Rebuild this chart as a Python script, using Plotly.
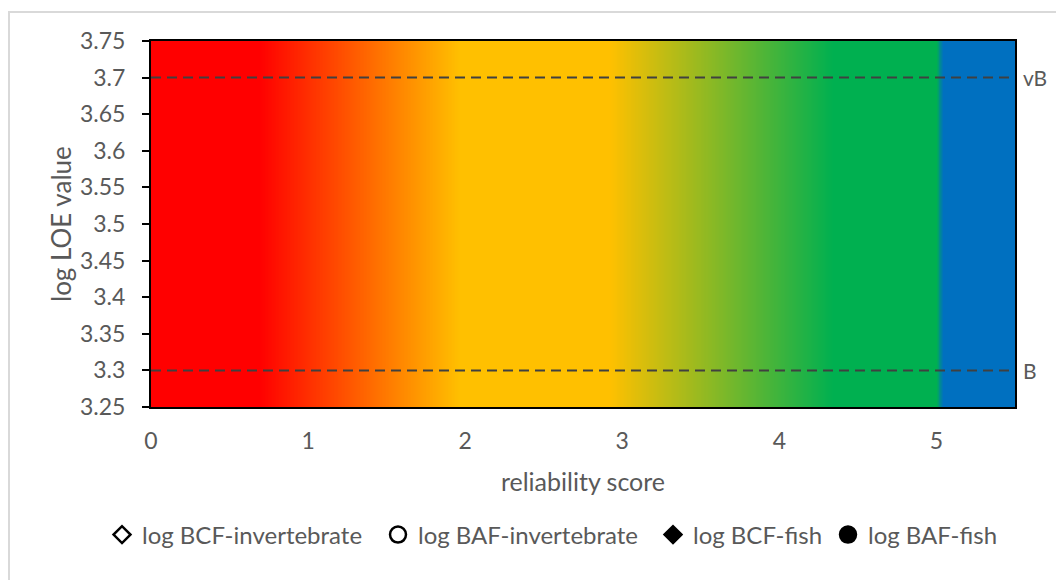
import numpy as np
import plotly.graph_objects as go

# Background reliability gradient (x position of colour stops, colours)
grad_stops = [0.0, 0.69, 1.97, 2.92, 4.34, 5.0, 5.04, 5.5]
grad_colors = ["#ff0000", "#ff0000", "#ffc000", "#ffc000", "#00b050", "#00b050", "#0070c0", "#0070c0"]

# Threshold lines
thresh_values = [3.7, 3.3]
thresh_labels = ["vB", "B"]

# Legend series (no data points shown)
series_names = ["log BCF-invertebrate", "log BAF-invertebrate", "log BCF-fish", "log BAF-fish"]
series_symbols = ["diamond-open", "circle-open", "diamond", "circle"]
series_sizes = [13, 16, 13, 16]

x_min, x_max = 0.0, 5.5
y_min, y_max = 3.25, 3.75
y_ticks = [3.25, 3.3, 3.35, 3.4, 3.45, 3.5, 3.55, 3.6, 3.65, 3.7, 3.75]
x_ticks = [0, 1, 2, 3, 4, 5]

FONT = "Lato"
GREY = "#595959"

# figure geometry (page has an 8px body margin)
W, H = 1056, 572
L, R, T, B = 143, 49, 33, 173
PW, PH = W - L - R, H - T - B

# where each legend entry's text begins (figure px)
legend_text_x = [131, 407, 682, 857]
legend_y = 527

fig = go.Figure()

# gradient heatmap
xs = np.linspace(x_min, x_max, 1101)
span = x_max - x_min
cscale = [[(s - x_min) / span, c] for s, c in zip(grad_stops, grad_colors)]
fig.add_trace(go.Heatmap(
    x=xs, y=[y_min, y_max], z=[xs, xs],
    colorscale=cscale, zmin=x_min, zmax=x_max,
    showscale=False, hoverinfo="skip", showlegend=False,
))

# threshold lines
for v, lab in zip(thresh_values, thresh_labels):
    fig.add_trace(go.Scatter(
        x=[x_min, x_max], y=[v, v], mode="lines",
        line=dict(color="#404040", width=2, dash="10px,6px"),
        showlegend=False, hoverinfo="skip",
    ))
    fig.add_annotation(x=x_max, y=v, xref="x", yref="y", text=lab,
                       showarrow=False, xanchor="left", xshift=6,
                       font=dict(family=FONT, size=21, color=GREY))

legend_layouts = {}
for i, (name, sym, sz) in enumerate(zip(series_names, series_symbols, series_sizes)):
    lname = "legend" if i == 0 else f"legend{i + 1}"
    fig.add_trace(go.Scatter(
        x=[None], y=[None], mode="markers", name=name, legend=lname,
        marker=dict(symbol=sym, size=sz, color="black",
                    line=dict(color="black", width=2.5)),
    ))
    legend_layouts[lname] = dict(
        orientation="h", xref="container", yref="container",
        x=(legend_text_x[i] - 37) / W, xanchor="left",
        y=(H - legend_y) / H, yanchor="middle",
        font=dict(family=FONT, size=24, color=GREY),
        itemsizing="trace", itemwidth=30, bgcolor="rgba(0,0,0,0)")

# y-axis title as rotated annotation
fig.add_annotation(text="log LOE value", xref="paper", yref="paper",
                   x=(53 - L) / PW, y=0.5, xanchor="center", yanchor="middle",
                   textangle=-90, showarrow=False,
                   font=dict(family=FONT, size=26, color=GREY))

fig.update_layout(
    width=W, height=H,
    margin=dict(l=L, r=R, t=T, b=B, autoexpand=False),
    paper_bgcolor="white", plot_bgcolor="white",
    font=dict(family=FONT, size=24, color=GREY),
    shapes=[dict(type="rect", xref="paper", yref="paper",
                 x0=(1 - L) / PW, x1=(W + 20 - L) / PW,
                 y0=(PH - (H + 20 - T)) / PH, y1=(PH - (4 - T)) / PH,
                 line=dict(color="#d9d9d9", width=2), layer="below")],
    **legend_layouts,
)

fig.update_xaxes(range=[x_min, x_max], tickvals=x_ticks, ticks="",
                 showline=True, linecolor="black", linewidth=2, mirror=True,
                 showgrid=False, zeroline=False, ticklabelstandoff=12,
                 tickfont=dict(family=FONT, size=23, color=GREY),
                 title=dict(text="reliability score", standoff=21,
                            font=dict(family=FONT, size=25, color=GREY)))
fig.update_yaxes(range=[y_min, y_max], tickvals=y_ticks, ticks="outside",
                 ticklen=7, tickcolor="black", tickwidth=2,
                 showline=True, linecolor="black", linewidth=2, mirror=True,
                 showgrid=False, zeroline=False, ticklabelstandoff=12,
                 tickfont=dict(family=FONT, size=23, color=GREY))

fig.write_html("out.html")
